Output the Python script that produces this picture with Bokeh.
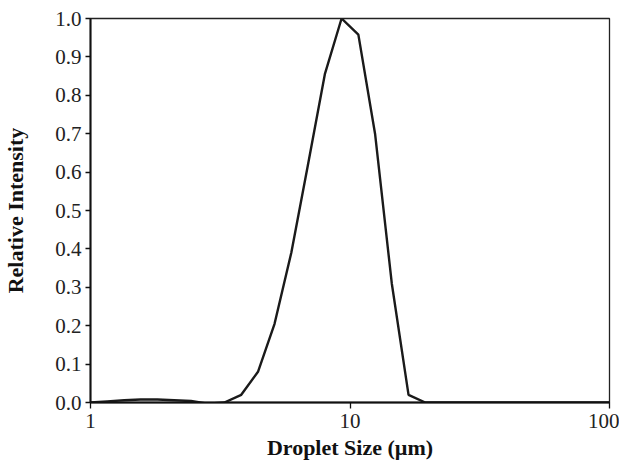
from bokeh.plotting import figure
from bokeh.models import FixedTicker, PrintfTickFormatter, Range1d
from bokeh.embed import file_html
from bokeh.resources import INLINE

# Droplet size (µm) and relative intensity
droplet_size = [1.00, 1.16, 1.35, 1.56, 1.81, 2.10, 2.44, 2.83, 3.28, 3.81,
                4.42, 5.12, 5.94, 6.89, 8.00, 9.28, 10.77, 12.49, 14.49, 16.81,
                19.5, 100.0]
intensity = [0.000, 0.003, 0.006, 0.008, 0.008, 0.006, 0.004, -0.003, 0.000, 0.020,
             0.080, 0.205, 0.390, 0.620, 0.855, 1.000, 0.958, 0.700, 0.310, 0.020,
             0.000, 0.000]

x_ticks = [1, 10, 100]
y_ticks = [0.0, 0.1, 0.2, 0.3, 0.4, 0.5, 0.6, 0.7, 0.8, 0.9, 1.0]

FONT = "Liberation Serif"

p = figure(width=619, height=462, x_axis_type="log",
           x_range=Range1d(1, 100), y_range=Range1d(0, 1.0),
           output_backend="svg", toolbar_location=None,
           min_border_left=89, min_border_right=10,
           min_border_top=18, min_border_bottom=58)

p.line(droplet_size, intensity, line_color="#1a1a1a", line_width=2.4)

p.xgrid.visible = False
p.ygrid.visible = False
p.outline_line_color = "#222222"
p.outline_line_width = 1.3
p.background_fill_color = "white"
p.border_fill_color = "white"

xa = p.xaxis[0]
xa.ticker = FixedTicker(ticks=x_ticks, minor_ticks=[])
xa.formatter = PrintfTickFormatter(format="%d")
xa.axis_label = "Droplet Size (µm)"
xa.major_tick_in = 0
xa.major_tick_out = 6
xa.minor_tick_in = 0
xa.minor_tick_out = 0
xa.major_label_standoff = 5
xa.axis_label_standoff = 4

ya = p.yaxis[0]
ya.ticker = FixedTicker(ticks=y_ticks, minor_ticks=[])
ya.formatter = PrintfTickFormatter(format="%.1f")
ya.axis_label = "Relative Intensity"
ya.major_tick_in = 0
ya.major_tick_out = 5
ya.minor_tick_in = 0
ya.minor_tick_out = 0
ya.major_label_standoff = 4
ya.axis_label_standoff = 24

for ax in (xa, ya):
    ax.axis_line_color = "#111111"
    ax.axis_line_width = 2
    ax.major_tick_line_color = "#111111"
    ax.major_tick_line_width = 1.3
    ax.major_label_text_font = FONT
    ax.major_label_text_font_size = "21px"
    ax.major_label_text_color = "#222222"
    ax.axis_label_text_font = FONT
    ax.axis_label_text_font_size = "22px"
    ax.axis_label_text_font_style = "bold"
    ax.axis_label_text_color = "#111111"

open("out.html", "w").write(file_html(p, INLINE))
